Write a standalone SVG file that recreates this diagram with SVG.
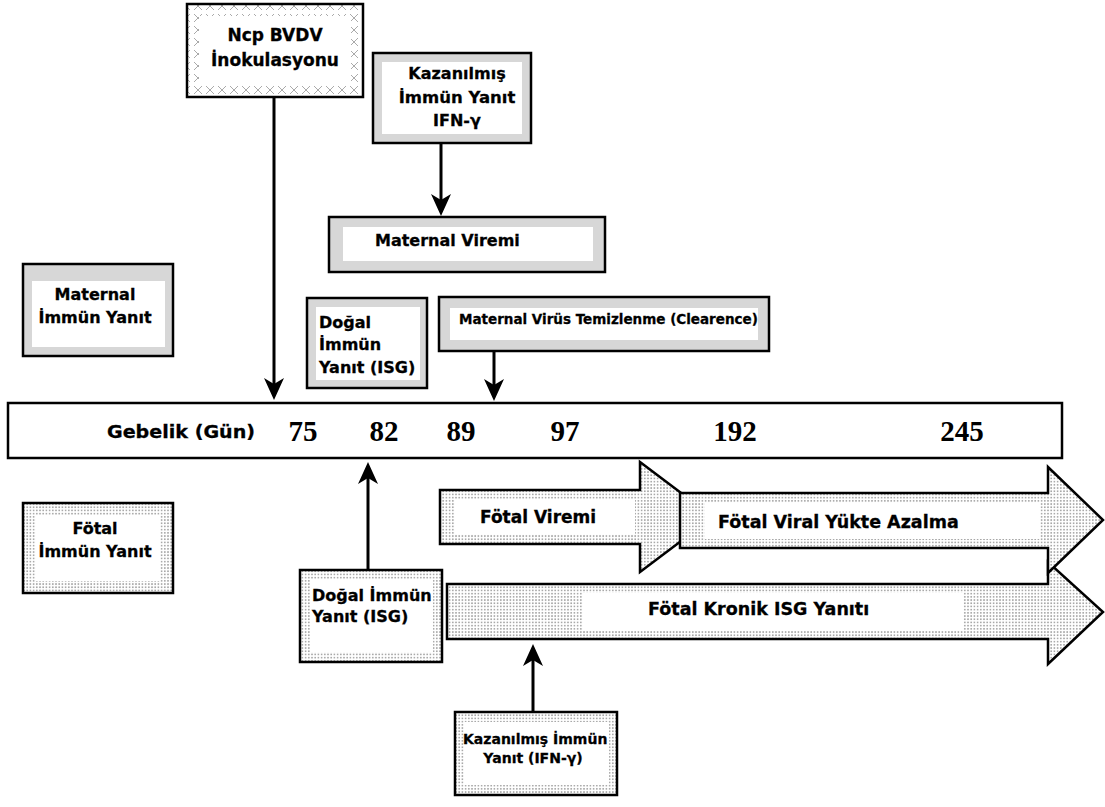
<svg xmlns="http://www.w3.org/2000/svg" width="1105" height="807" viewBox="0 0 1105 807">
<style>
.t{font-family:"DejaVu Sans","Liberation Sans",sans-serif;font-weight:bold;font-size:16px;fill:#000;stroke:#000;stroke-width:0.3}
.s{font-size:13.5px}
.b{font-size:17.5px}
.num{font-family:"Liberation Serif","Times New Roman",serif;font-weight:bold;font-size:29px;fill:#000;text-anchor:middle}
.mid{text-anchor:middle}
.gbox{fill:#d7d7d7;stroke:#000;stroke-width:2.5}
.dbox{fill:url(#dots);stroke:#000;stroke-width:2.5}
.xbox{fill:url(#xhatch);stroke:#000;stroke-width:2.5}
.in{fill:#fff}
.conn{stroke:#000;stroke-width:3;fill:none;marker-end:url(#ah)}
</style>
<defs>
<pattern id="dots" width="3.2" height="3.2" patternUnits="userSpaceOnUse">
<rect width="3.2" height="3.2" fill="#fff"/>
<circle cx="1.6" cy="1.6" r="0.9" fill="#9c9c9c"/>
</pattern>
<pattern id="xhatch" width="12" height="12" patternUnits="userSpaceOnUse">
<rect width="12" height="12" fill="#fff"/>
<path d="M2,2 L10,10 M10,2 L2,10" stroke="#aaaaaa" stroke-width="1"/>
</pattern>
<marker id="ah" markerUnits="userSpaceOnUse" markerWidth="24" markerHeight="22" refX="12" refY="11" orient="auto">
<path d="M0,1 L22,11 L0,21 L6,11 Z" fill="#000"/>
</marker>
</defs>
<rect width="1105" height="807" fill="#fff"/>

<g id="connectors">
<line class="conn" x1="274" y1="97" x2="274" y2="390"/>
<line class="conn" x1="441" y1="143" x2="441" y2="206"/>
<line class="conn" x1="494" y1="351" x2="494" y2="391"/>
<line class="conn" x1="368" y1="570" x2="368" y2="472"/>
<line class="conn" x1="533" y1="712" x2="533" y2="654"/>
</g>

<g id="ncp">
<rect class="xbox" x="187" y="4" width="176" height="93"/>
<rect class="in" x="199" y="16" width="152" height="68"/>
<text class="t mid" x="275" y="41" style="font-size:17px">Ncp BVDV</text>
<text class="t mid" x="275" y="66" style="font-size:17px">İnokulasyonu</text>
</g>

<g id="kazanilmis-top">
<rect class="gbox" x="373" y="53" width="158" height="90"/>
<rect class="in" x="382" y="62" width="140" height="72"/>
<text class="t mid" x="457" y="79">Kazanılmış</text>
<text class="t mid" x="457" y="103" style="font-size:16.5px">İmmün Yanıt</text>
<text class="t mid" x="457" y="126">IFN-γ</text>
</g>

<g id="maternal-viremi">
<rect class="gbox" x="329" y="217" width="276" height="55"/>
<rect class="in" x="343" y="227" width="250" height="34"/>
<text class="t" x="375" y="246">Maternal Viremi</text>
</g>

<g id="maternal-immun">
<rect class="gbox" x="23" y="264" width="150" height="92"/>
<rect class="in" x="32" y="281" width="133" height="66"/>
<text class="t mid" x="95" y="300">Maternal</text>
<text class="t mid" x="95" y="323">İmmün Yanıt</text>
</g>

<g id="dogal-top">
<rect class="gbox" x="307" y="298" width="120" height="90"/>
<rect class="in" x="316" y="307" width="104" height="73"/>
<text class="t" x="319" y="328">Doğal</text>
<text class="t" x="319" y="350">İmmün</text>
<text class="t" x="319" y="373">Yanıt (ISG)</text>
</g>

<g id="maternal-clearance">
<rect class="gbox" x="439" y="297" width="330" height="54"/>
<rect class="in" x="450" y="308" width="308" height="32"/>
<text class="t s" x="459" y="324">Maternal Virüs Temizlenme (Clearence)</text>
</g>

<g id="timeline">
<rect x="8" y="403" width="1054" height="55" fill="#fff" stroke="#000" stroke-width="2.5"/>
<text class="t" x="107" y="438" style="font-size:18px" textLength="148" lengthAdjust="spacingAndGlyphs">Gebelik (Gün)</text>
<text class="num" x="303" y="441">75</text>
<text class="num" x="384" y="441">82</text>
<text class="num" x="461" y="441">89</text>
<text class="num" x="565" y="441">97</text>
<text class="num" x="735" y="441">192</text>
<text class="num" x="962" y="441">245</text>
</g>

<g id="fotal-immun">
<rect class="dbox" x="23" y="503" width="150" height="90"/>
<rect class="in" x="36" y="515" width="124" height="66"/>
<text class="t mid" x="95" y="534">Fötal</text>
<text class="t mid" x="95" y="557">İmmün Yanıt</text>
</g>

<g id="fotal-kronik">
<polygon class="dbox" points="447,584 1048,584 1048,562 1103,612 1048,664 1048,639 447,639"/>
<rect class="in" x="583" y="593" width="380" height="38"/>
<text class="t b" x="648" y="615">Fötal Kronik ISG Yanıtı</text>
</g>

<g id="fotal-viremi">
<polygon class="dbox" points="440,490 640,490 640,462 713,517 640,572 640,544 440,544"/>
<rect class="in" x="455" y="500" width="180" height="34"/>
<text class="t" x="480" y="523" style="font-size:17px">Fötal Viremi</text>
</g>

<g id="fotal-viral-azalma">
<polygon class="dbox" points="680,493 1048,493 1048,467 1103,520 1048,573 1048,548 680,548"/>
<rect class="in" x="705" y="503" width="335" height="36"/>
<text class="t b" x="718" y="528">Fötal Viral Yükte Azalma</text>
</g>

<g id="dogal-bottom">
<rect class="dbox" x="300" y="570" width="142" height="92"/>
<rect class="in" x="310" y="580" width="123" height="72"/>
<text class="t" x="312" y="601">Doğal İmmün</text>
<text class="t" x="312" y="622">Yanıt (ISG)</text>
</g>

<g id="kazanilmis-bottom">
<rect class="dbox" x="455" y="712" width="162" height="83"/>
<rect class="in" x="464" y="722" width="145" height="63"/>
<text class="t" x="463" y="744" style="font-size:14px">Kazanılmış İmmün</text>
<text class="t mid" x="533" y="763" style="font-size:14px">Yanıt (IFN-γ)</text>
</g>
</svg>
